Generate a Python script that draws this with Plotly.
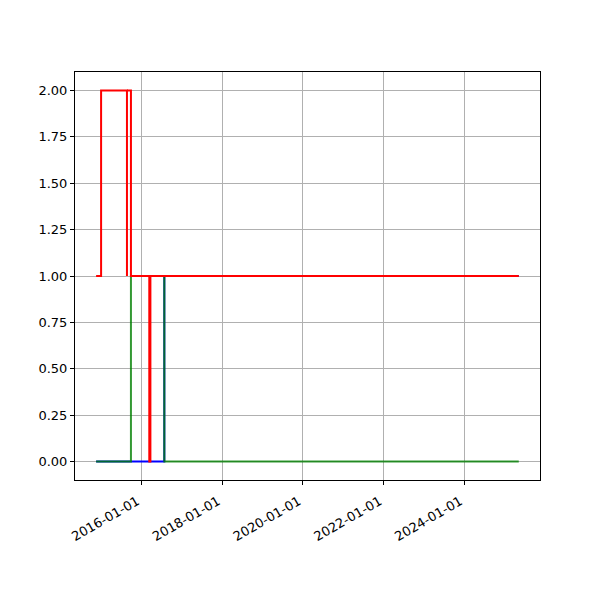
import plotly.graph_objects as go

# Step series (values change at the listed dates; None = break in line)
red_dates = ["2014-11-19", "2015-01-03", "2015-08-25", "2015-08-25", "2015-08-25",
             "2015-09-30", "2016-03-14", "2016-03-24", "2025-05-08"]
red_values = [1, 2, 1, None, 2, 1, 0, 1, 1]

green_dates = ["2014-11-19", "2015-09-30", "2016-07-28", "2025-05-08"]
green_values = [0, 1, 0, 0]

blue_dates = ["2014-11-19", "2016-07-28", "2025-05-08"]
blue_values = [0, 1, 1]

x_tick_vals = ["2016-01-01", "2018-01-01", "2020-01-01", "2022-01-01", "2024-01-01"]
y_tick_vals = [0, 0.25, 0.5, 0.75, 1.0, 1.25, 1.5, 1.75, 2.0]

fig = go.Figure()
fig.add_trace(go.Scatter(x=blue_dates, y=blue_values, mode="lines",
                         line=dict(color="#0000ff", width=2, shape="hv"), showlegend=False))
fig.add_trace(go.Scatter(x=green_dates, y=green_values, mode="lines",
                         line=dict(color="rgba(0,128,0,0.8)", width=2, shape="hv"), showlegend=False))
fig.add_trace(go.Scatter(x=red_dates, y=red_values, mode="lines", connectgaps=False,
                         line=dict(color="#ff0000", width=2, shape="hv"), showlegend=False))

font = dict(family="DejaVu Sans", size=13, color="black")
fig.update_layout(
    width=600, height=600,
    margin=dict(l=67, r=68, t=64, b=128),
    paper_bgcolor="white", plot_bgcolor="white",
    font=font,
)
fig.update_xaxes(
    type="date", range=["2014-05-12", "2025-11-16"],
    tickmode="array", tickvals=x_tick_vals, ticktext=x_tick_vals,
    tickangle=-30, ticks="outside", ticklen=4, tickcolor="black",
    ticklabelstandoff=4, ticklabelshift=-4,
    showgrid=True, gridcolor="#b0b0b0", gridwidth=1,
    showline=True, linecolor="black", linewidth=1, mirror=True,
    zeroline=False, tickfont=font, automargin=False,
)
fig.update_yaxes(
    range=[-0.1, 2.1], tickmode="array", tickvals=y_tick_vals,
    tickformat=".2f", ticks="outside", ticklen=4, tickcolor="black",
    showgrid=True, gridcolor="#b0b0b0", gridwidth=1,
    showline=True, linecolor="black", linewidth=1, mirror=True,
    zeroline=False, tickfont=font, automargin=False,
)
fig.write_html("out.html")
